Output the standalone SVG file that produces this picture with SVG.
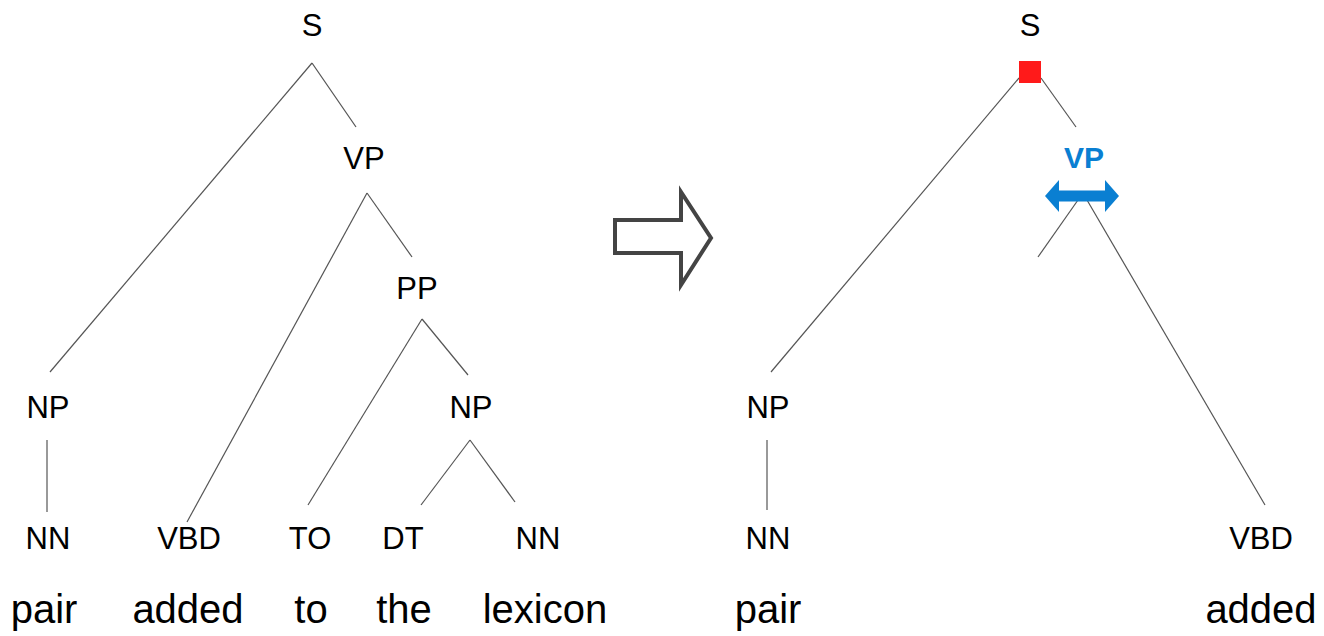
<svg xmlns="http://www.w3.org/2000/svg" width="1324" height="636" viewBox="0 0 1324 636">
<style>
.lbl{font-family:"Liberation Sans",Arial,sans-serif;font-size:31px;fill:#000;text-anchor:middle}
.word{font-family:"Liberation Sans",Arial,sans-serif;font-size:40px;fill:#000;text-anchor:middle}
.vp{font-family:"Liberation Sans",Arial,sans-serif;font-size:30px;font-weight:bold;fill:#0a7fd2;text-anchor:middle}
.edge{stroke:#555;stroke-width:1.2;fill:none}
</style>
<rect width="1324" height="636" fill="#fff"/>
<g id="connectors">
<line class="edge" x1="312" y1="63" x2="50" y2="372"/>
<line class="edge" x1="312" y1="63" x2="356" y2="127"/>
<line class="edge" x1="367" y1="193" x2="187" y2="522"/>
<line class="edge" x1="367" y1="193" x2="412" y2="257"/>
<line class="edge" x1="422" y1="319" x2="308" y2="505"/>
<line class="edge" x1="422" y1="319" x2="468" y2="375"/>
<line class="edge" x1="47" y1="440" x2="47" y2="512"/>
<line class="edge" x1="470" y1="440" x2="421" y2="505"/>
<line class="edge" x1="470" y1="440" x2="515" y2="502"/>
<line class="edge" x1="1019" y1="78" x2="771" y2="372"/>
<line class="edge" x1="1041" y1="78" x2="1076" y2="127"/>
<line class="edge" x1="1078" y1="200" x2="1038" y2="257"/>
<line class="edge" x1="1087" y1="200" x2="1265" y2="505"/>
<line class="edge" x1="767" y1="440" x2="767" y2="510"/>
</g>
<g id="left-S"><text class="lbl" x="312" y="36">S</text></g>
<g id="left-VP"><text class="lbl" x="364" y="169">VP</text></g>
<g id="left-PP"><text class="lbl" x="417" y="299">PP</text></g>
<g id="left-NP1"><text class="lbl" x="48" y="418">NP</text></g>
<g id="left-NP2"><text class="lbl" x="471" y="418">NP</text></g>
<g id="left-NN1"><text class="lbl" x="48" y="549">NN</text></g>
<g id="left-VBD"><text class="lbl" x="189" y="549">VBD</text></g>
<g id="left-TO"><text class="lbl" x="310" y="549">TO</text></g>
<g id="left-DT"><text class="lbl" x="403" y="549">DT</text></g>
<g id="left-NN2"><text class="lbl" x="538" y="549">NN</text></g>
<g id="left-words">
<text class="word" x="44" y="623">pair</text>
<text class="word" x="188" y="623">added</text>
<text class="word" x="311" y="623">to</text>
<text class="word" x="404" y="623">the</text>
<text class="word" x="545" y="623">lexicon</text>
</g>
<g id="transform-arrow">
<path d="M615,220 L681,220 L681,192 L711,238 L681,285 L681,253 L615,253 Z" fill="#fff" stroke="#444" stroke-width="4" stroke-linejoin="miter"/>
</g>
<g id="right-S"><text class="lbl" x="1030" y="36">S</text><rect x="1019" y="61" width="22" height="22" fill="#ff1a1a"/></g>
<g id="right-VP">
<text class="vp" x="1084" y="168">VP</text>
<path d="M1045,196 L1059,180 L1059,190.5 L1105,190.5 L1105,180 L1119,196 L1105,212 L1105,201.5 L1059,201.5 L1059,212 Z" fill="#0a7fd2"/>
</g>
<g id="right-NP"><text class="lbl" x="768" y="418">NP</text></g>
<g id="right-NN"><text class="lbl" x="768" y="549">NN</text></g>
<g id="right-VBD"><text class="lbl" x="1261" y="549">VBD</text></g>
<g id="right-words">
<text class="word" x="768" y="623">pair</text>
<text class="word" x="1261" y="623">added</text>
</g>
</svg>
